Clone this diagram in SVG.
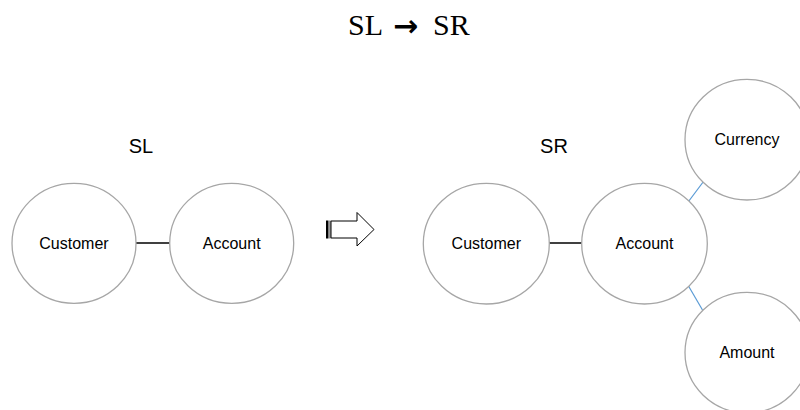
<svg xmlns="http://www.w3.org/2000/svg" width="800" height="410" viewBox="0 0 800 410">
  <style>
    .node { fill: #ffffff; stroke: #a6a6a6; stroke-width: 1.3; }
    .label { font-family: "Liberation Sans", Arial, sans-serif; font-size: 16px; fill: #000000; text-anchor: middle; }
    .side { font-family: "Liberation Sans", Arial, sans-serif; font-size: 20px; fill: #000000; text-anchor: middle; }
    .title { font-family: "Liberation Serif", "Times New Roman", serif; font-size: 30px; fill: #000000; }
    .link { stroke: #404040; stroke-width: 2; fill: none; }
    .attr { stroke: #5b9bd5; stroke-width: 1.2; fill: none; }
  </style>

  <rect width="800" height="410" fill="#ffffff"/>

  <!-- heading -->
  <text class="title" y="35"><tspan x="348">SL</tspan><tspan x="393" y="36" font-family="DejaVu Sans, sans-serif" font-weight="bold" font-size="30">→</tspan><tspan x="433" y="35">SR</tspan></text>

  <!-- section captions -->
  <text class="side" x="141" y="153">SL</text>
  <text class="side" x="554" y="153">SR</text>

  <!-- connectors -->
  <g id="connectors">
    <line class="link" x1="136" y1="243" x2="170" y2="243"/>
    <line class="link" x1="549" y1="243" x2="582" y2="243"/>
    <line class="attr" x1="688.5" y1="201.5" x2="703.5" y2="181.5"/>
    <line class="attr" x1="688.5" y1="286" x2="702.5" y2="310"/>
  </g>

  <!-- left schema -->
  <g id="sl-customer">
    <ellipse class="node" cx="74" cy="243.3" rx="62" ry="60"/>
    <text class="label" x="74" y="249">Customer</text>
  </g>
  <g id="sl-account">
    <ellipse class="node" cx="231.7" cy="243.3" rx="62" ry="60"/>
    <text class="label" x="231.7" y="249">Account</text>
  </g>

  <!-- transformation arrow -->
  <g id="transform-arrow">
    <rect x="326" y="220.5" width="2.5" height="18" fill="#000000"/>
    <rect x="329.2" y="220.5" width="1.6" height="18" fill="#808080"/>
    <polygon points="331,221 357,221 357,212.5 374,229.5 357,246 357,238 331,238" fill="#ffffff" stroke="#000000" stroke-width="1"/>
  </g>

  <!-- right schema -->
  <g id="sr-customer">
    <ellipse class="node" cx="486.3" cy="243.7" rx="63" ry="60.3"/>
    <text class="label" x="486.3" y="249">Customer</text>
  </g>
  <g id="sr-account">
    <ellipse class="node" cx="644.5" cy="243.7" rx="62.8" ry="60.3"/>
    <text class="label" x="644.5" y="249">Account</text>
  </g>
  <g id="sr-currency">
    <ellipse class="node" cx="747" cy="139.7" rx="62" ry="60.3"/>
    <text class="label" x="747" y="145">Currency</text>
  </g>
  <g id="sr-amount">
    <ellipse class="node" cx="747" cy="352.6" rx="62" ry="60.3"/>
    <text class="label" x="747" y="358">Amount</text>
  </g>
</svg>
